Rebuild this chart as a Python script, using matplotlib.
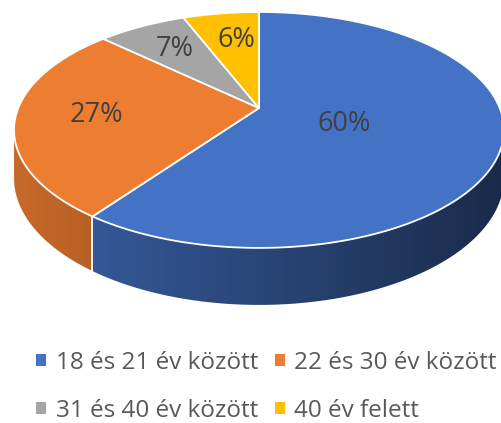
import numpy as np
import matplotlib.pyplot as plt
from matplotlib.patches import Polygon, Patch
from matplotlib.colors import to_rgb

plt.rcParams['font.family'] = ['Open Sans', 'DejaVu Sans']

# data
categories = ['18 és 21 év között', '22 és 30 év között', '31 és 40 év között', '40 év felett']
values = [60, 27, 7, 6]
labels = ['60%', '27%', '7%', '6%']
colors = ['#4472C4', '#ED7D31', '#A5A5A5', '#FFC000']

# 3d look (pixel space)
cx, cy = 259, 108      # apex of the pie
a, b, c = 240.7, 93.8, 0.186   # width, depth, perspective
h = 46.4               # thickness
lab_r = [0.37, 0.67, 0.69, 0.68]
lab_nudge = [4, 0, 0, 2]


def proj(theta, r=1.0, drop=0.0):
    x = r * np.sin(theta)
    u = r * np.cos(theta)
    w = 1 + c * u
    return cx + a * x / w, (cy - b * u) / w + drop / w


fig = plt.figure(figsize=(5.01, 4.23), dpi=100)
ax = fig.add_axes([0, 0, 1, 1])

frac = np.array(values) / sum(values)
edges = np.concatenate([[0], np.cumsum(frac)]) * 2 * np.pi

# visible part of the outer wall, shaded left->right
vis_lo, vis_hi = np.arccos(-c), 2 * np.pi - np.arccos(-c)
px = np.arange(501) + 0.5
xn = (px - cx) / 245.0
fac = np.clip(0.611 - 0.234 * xn, 0.3, 1)

for i in range(len(values)):
    t0, t1 = max(edges[i], vis_lo), min(edges[i + 1], vis_hi)
    if t1 <= t0:
        continue
    th = np.linspace(t0, t1, 200)
    xs, ys = proj(th)
    _, yb = proj(th, drop=h)
    pts = list(zip(xs, ys)) + list(zip(xs[::-1], yb[::-1]))
    poly = Polygon(pts, closed=True, fc='none', ec='none')
    ax.add_patch(poly)
    grad = np.array(to_rgb(colors[i]))[None, None, :] * fac[None, :, None]
    im = ax.imshow(grad, extent=(0, 501, 423, 0), aspect='auto', interpolation='bilinear')
    im.set_clip_path(poly)

ax.set_xlim(0, 501)
ax.set_ylim(423, 0)
ax.axis('off')

# white line on the wall where slices meet
for e in edges[1:-1]:
    if vis_lo < e < vis_hi:
        x1, y1 = proj(e)
        _, yb = proj(e, drop=h)
        ax.plot([x1, x1], [y1, yb], color='white', lw=1.3)

# top face
for i in range(len(values)):
    th = np.linspace(edges[i], edges[i + 1], 200)
    xs, ys = proj(th)
    pts = [(cx, cy)] + list(zip(xs, ys))
    ax.add_patch(Polygon(pts, closed=True, fc=colors[i], ec='white', lw=1.3, joinstyle='round'))

# data labels
for i in range(len(values)):
    mid = (edges[i] + edges[i + 1]) / 2 + np.radians(lab_nudge[i])
    lx, ly = proj(mid, r=lab_r[i])
    ax.text(lx, ly, labels[i], fontsize=19.5, color='#404040', ha='center', va='center')

# legend, row by row like the original
order = [0, 2, 1, 3]
handles = [Patch(fc=colors[k], ec='none') for k in order]
leg = ax.legend(handles, [categories[k] for k in order], ncol=2, loc='upper left',
                bbox_to_anchor=(0.072, 0.171), frameon=False, fontsize=17.5,
                handlelength=0.4, handleheight=0.4, handletextpad=0.4,
                columnspacing=0.7, labelspacing=1.0, borderpad=0, borderaxespad=0)
for t in leg.get_texts():
    t.set_color('#595959')

fig.savefig('out.png', dpi=100)
